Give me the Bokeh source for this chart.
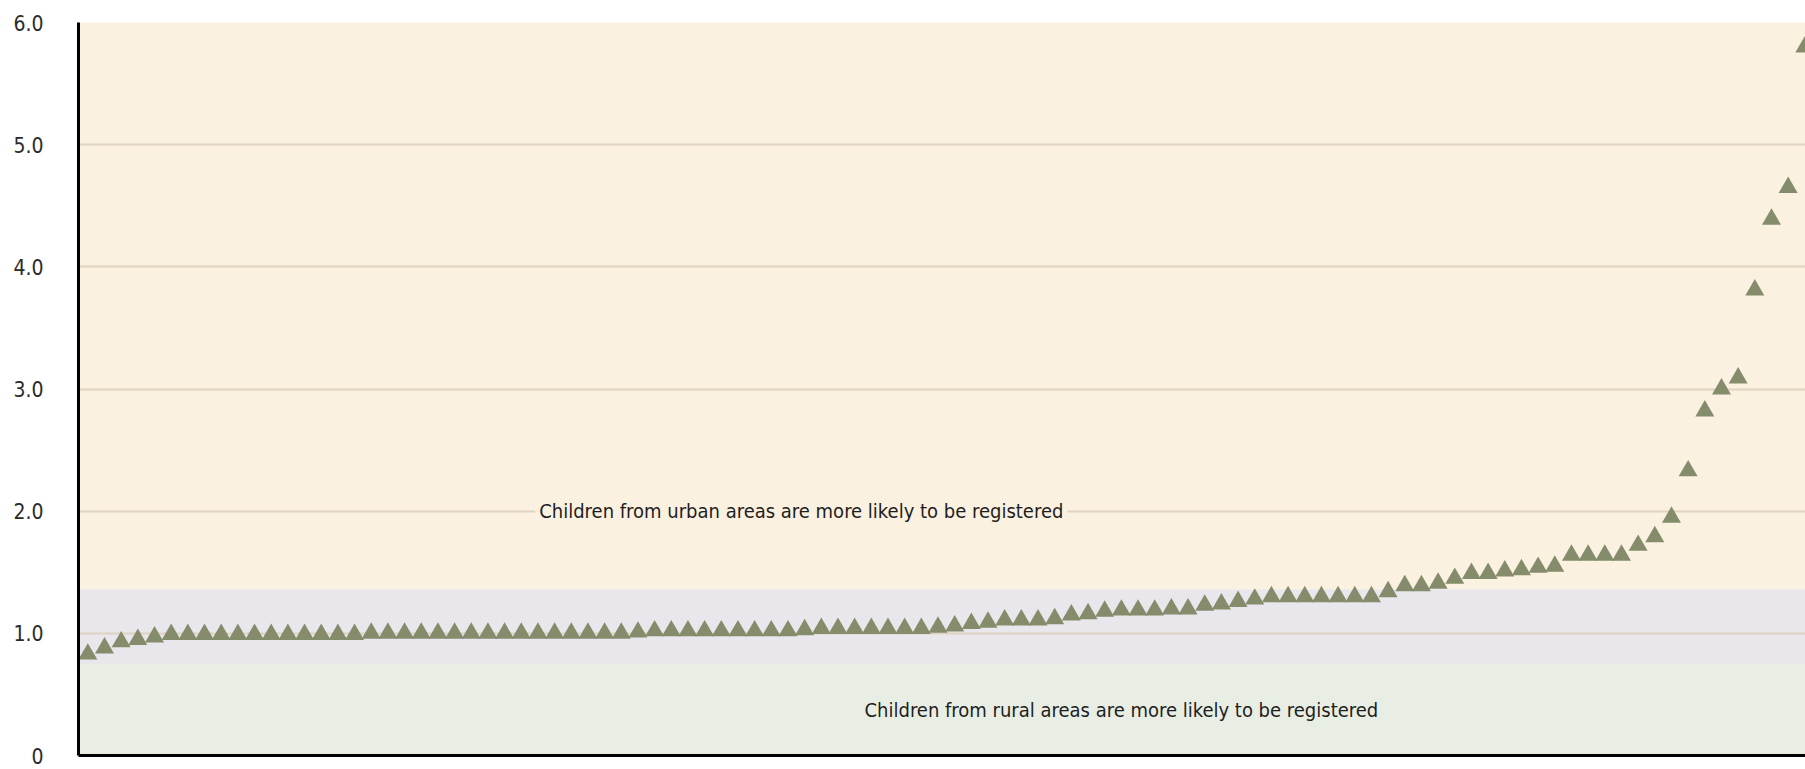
from bokeh.plotting import figure
from bokeh.models import BoxAnnotation, Label, Range1d, FixedTicker, CustomJSTickFormatter
from bokeh.embed import file_html
from bokeh.resources import INLINE

# Urban-to-rural ratio of birth registration, countries ranked (ascending)
ratio = [0.83, 0.88, 0.93, 0.95, 0.97, 0.99,
         0.99, 0.99, 0.99, 0.99, 0.99, 0.99, 0.99, 0.99, 0.99, 0.99, 0.99,
         1.00, 1.00, 1.00, 1.00, 1.00, 1.00, 1.00, 1.00, 1.00, 1.00, 1.00, 1.00, 1.00, 1.00, 1.00, 1.00,
         1.01,
         1.02, 1.02, 1.02, 1.02, 1.02, 1.02, 1.02, 1.02, 1.02,
         1.03,
         1.04, 1.04, 1.04, 1.04, 1.04, 1.04, 1.04,
         1.05, 1.06, 1.08, 1.09,
         1.11, 1.11, 1.11,
         1.12, 1.15, 1.16, 1.18,
         1.19, 1.19, 1.19,
         1.20, 1.20,
         1.23, 1.24, 1.26, 1.28,
         1.30, 1.30, 1.30, 1.30, 1.30, 1.30, 1.30,
         1.34, 1.39, 1.39, 1.41, 1.45, 1.49, 1.49, 1.51, 1.52, 1.54, 1.55,
         1.64, 1.64, 1.64, 1.64,
         1.72, 1.79, 1.95, 2.33, 2.82, 3.00, 3.09, 3.81, 4.39, 4.65, 5.80]
rank = list(range(1, len(ratio) + 1))

y_ticks = [0, 1, 2, 3, 4, 5, 6]
urban_text = "Children from urban areas are more likely to be registered"
rural_text = "Children from rural areas are more likely to be registered"

FONT = "'Liberation Sans Narrow', 'DejaVu Sans Condensed', 'Liberation Sans', sans-serif"
CREAM = "#FBF1E0"
LAVENDER = "#E9E7EB"
GREEN = "#E9EEE5"

p = figure(width=1805, height=769, output_backend="svg", toolbar_location=None,
           x_range=Range1d(0.44, 104.04), y_range=Range1d(0, 6),
           min_border_left=78, min_border_right=0, min_border_top=22, min_border_bottom=14,
           background_fill_color="white", border_fill_color="white")
p.outline_line_color = None

# background zones
p.add_layout(BoxAnnotation(bottom=1.36, top=6, fill_color=CREAM, fill_alpha=1, line_color=None, level="image"))
p.add_layout(BoxAnnotation(bottom=0.75, top=1.36, fill_color=LAVENDER, fill_alpha=1, line_color=None, level="image"))
p.add_layout(BoxAnnotation(bottom=0, top=0.75, fill_color=GREEN, fill_alpha=1, line_color=None, level="image"))

p.xgrid.visible = False
p.ygrid.ticker = FixedTicker(ticks=y_ticks)
p.ygrid.grid_line_color = "#D9CDB8"
p.ygrid.grid_line_alpha = 0.8
p.ygrid.grid_line_width = 2

p.scatter(rank, ratio, marker="triangle", size=19, fill_color="#858C6C", line_color=None)

yax = p.yaxis[0]
yax.ticker = FixedTicker(ticks=y_ticks)
yax.formatter = CustomJSTickFormatter(code="return tick == 0 ? '0' : tick.toFixed(1);")
yax.axis_line_color = "black"
yax.axis_line_width = 3
yax.major_tick_out = 0
yax.major_tick_in = 0
yax.minor_tick_out = 0
yax.minor_tick_in = 0
yax.major_label_standoff = 35
yax.major_label_text_font = FONT
yax.major_label_text_font_size = "21px"
yax.major_label_text_color = "#2b2b2b"

xax = p.xaxis[0]
xax.ticker = FixedTicker(ticks=[])
xax.axis_line_color = "black"
xax.axis_line_width = 3
xax.major_tick_out = 0
xax.major_tick_in = 0
xax.minor_tick_out = 0
xax.minor_tick_in = 0
xax.major_label_standoff = 0
xax.major_label_text_font_size = "0px"

p.add_layout(Label(x=43.8, y=2.0, text=urban_text, text_align="center", text_baseline="middle",
                   text_font=FONT, text_font_size="20px", text_color="#1e1e1e",
                   background_fill_color=CREAM, background_fill_alpha=1, padding=4))
p.add_layout(Label(x=63.0, y=0.37, text=rural_text, text_align="center", text_baseline="middle",
                   text_font=FONT, text_font_size="20px", text_color="#1e1e1e"))

open("out.html", "w").write(file_html(p, INLINE))
